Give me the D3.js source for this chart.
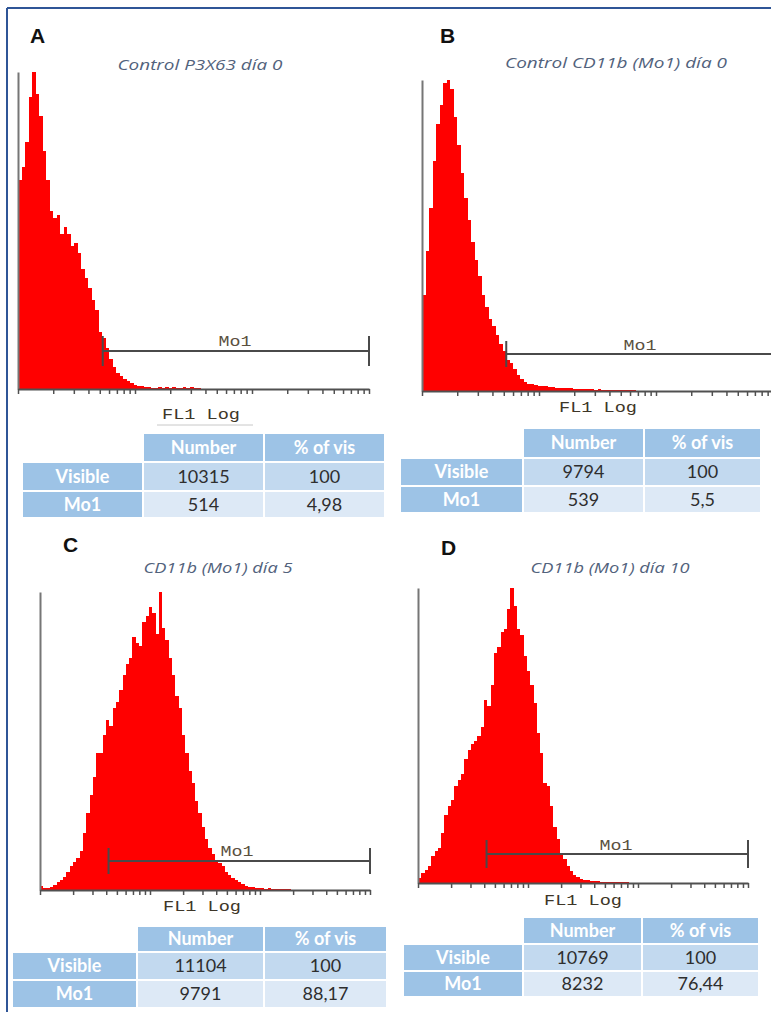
<!DOCTYPE html>
<html>
<head>
<meta charset="utf-8">
<script src="https://cdn.jsdelivr.net/npm/d3@7"></script>
<style>
  html, body { margin: 0; padding: 0; background: #fff; }
  svg { display: block; }
</style>
</head>
<body>
<svg id="chart" width="771" height="1012"></svg>
<script>
// histogram bins are 0.03 decade wide, starting at 10^0
const BIN = 0.03;

const panelLetters = ["A", "B", "C", "D"];
const panelTitles = ["Control P3X63 día 0", "Control CD11b (Mo1) día 0", "CD11b (Mo1) día 5", "CD11b (Mo1) día 10"];

// relative counts per bin (peak = 100)
const countsA = [66, 70, 78, 92, 100, 93, 86, 75, 66, 56, 54, 55, 49, 51, 49, 45, 46, 43, 38, 35,
  32, 28, 25, 18, 16, 13, 9.5, 7, 5, 4, 3, 2.5, 1.8, 1.4, 1.0, 0.8, 0.5, 0.5, 0.4, 0.3,
  0.5, 0.3, 0.5, 0.2, 0.5, 0.2, 0.3, 0.7, 0.3, 0.5, 0.4, 0.2];
const countsB = [31, 45, 59, 74, 86, 92, 99, 100, 97, 88, 79, 70, 62, 55, 48, 42, 37, 31, 27, 23,
  21, 18, 15, 13, 10, 9, 7, 5, 4, 3, 2.4, 2.1, 1.8, 1.7, 1.6, 1.5, 1.4, 1.3, 1.1, 1.0,
  0.9, 1.0, 0.9, 0.8, 0.6, 0.6, 0.6, 0.5, 0.6, 0.4, 0.5, 0.4, 0.3, 0.4, 0.3, 0.3, 0.2, 0.3, 0.2, 0.2, 0.2];
const countsC = [1.3, 0.6, 0.8, 1.1, 1.7, 2.8, 3.4, 4.5, 6, 8, 9.5, 10.6, 13, 19, 26, 32, 38, 46, 46, 52,
  57, 55, 61, 63, 67, 72, 76, 78, 85, 83, 82, 90, 92, 95, 93, 86, 100, 88, 84, 78,
  72, 65, 61, 52, 46, 40, 36, 30, 26, 21, 17, 14, 12, 10, 9, 8, 6, 5, 4, 3.5,
  2.8, 2.0, 1.3, 1.1, 0.9, 0.8, 0.6, 0.6, 0.5, 0.6, 0.4, 0.5, 0.3, 0.4, 0.3, 0.3];
const countsD = [1.7, 3.4, 4.5, 5.6, 9, 11, 12, 17, 23, 26, 28, 33, 35, 37, 42, 45, 47, 48, 50, 53,
  62, 60, 67, 78, 80, 85, 86, 93, 100, 94, 86, 84, 77, 72, 67, 61, 51, 44, 34, 33,
  26, 19, 15, 10, 8, 5.6, 4, 2.8, 2.0, 1.5, 1.1, 0.9, 0.8, 0.7, 0.6, 0.45, 0.45, 0.34, 0.2, 0.2,
  0.2, 0.34, 0.45, 0.2];

// Mo1 gate limits (FL1 units)
const gateLow = [5.3, 5.25, 4.2, 4.2];
const gateHigh = [1000, 1000, 1000, 1000];

// statistics tables
const tableHeaders = ["Number", "% of vis"];
const rowLabels = ["Visible", "Mo1"];
const visibleNumber = [10315, 9794, 11104, 10769];
const mo1Number = [514, 539, 9791, 8232];
const visiblePct = [100, 100, 100, 100];
const mo1Pct = [4.98, 5.5, 88.17, 76.44];

const allCounts = [countsA, countsB, countsC, countsD];

// page layout for each panel
const layout = [
  { letter: [30, 43], title: [200, 70, 165], x0: 18, x1: 369, yTop: 72, yBase: 389,
    gateY: 351, gateH: 15, gateLabel: [235, 346], axisLabel: [201, 419],
    table: { x: 22, y: 433, w: [121, 121, 121], h: [29, 29, 27] } },
  { letter: [440, 43], title: [616, 68, 222], x0: 422, x1: 773, yTop: 80, yBase: 391,
    gateY: 354, gateH: 13, gateLabel: [640, 350], axisLabel: [598, 412],
    table: { x: 400, y: 428, w: [123, 121, 117], h: [30, 28, 27] } },
  { letter: [63, 552], title: [218, 573, 149], x0: 40, x1: 370, yTop: 592, yBase: 890,
    gateY: 861, gateH: 13, gateLabel: [237, 856], axisLabel: [202, 911],
    table: { x: 12, y: 926, w: [125, 127, 123], h: [26, 28, 28] } },
  { letter: [441, 555], title: [610, 573, 159], x0: 418, x1: 748, yTop: 588, yBase: 883,
    gateY: 854, gateH: 14, gateLabel: [616, 850], axisLabel: [583, 905],
    table: { x: 403, y: 917, w: [120, 119, 117], h: [27, 27, 26] } }
];

const headBlue = "#9dc3e6";
const rowFill = ["#c2d9ef", "#dde9f6"];
const monoFont = "'Liberation Mono', 'DejaVu Sans Mono', monospace";

const svg = d3.select("#chart");

// outer frame (top and left edges visible)
svg.append("line").attr("x1", 7).attr("y1", 8).attr("x2", 771).attr("y2", 8)
  .attr("stroke", "#2f5597").attr("stroke-width", 2);
svg.append("line").attr("x1", 7).attr("y1", 8).attr("x2", 7).attr("y2", 1012)
  .attr("stroke", "#2f5597").attr("stroke-width", 2);

const tickVals = [];
[1, 10, 100].forEach(d => d3.range(1, 10).forEach(m => tickVals.push(d * m)));
tickVals.push(1000);

layout.forEach((L, k) => {
  const g = svg.append("g");
  const counts = allCounts[k];

  const x = d3.scaleLog().domain([1, 1000]).range([L.x0, L.x1]);
  const y = d3.scaleLinear().domain([0, 100]).range([L.yBase, L.yTop]);

  // panel letter
  g.append("text")
    .attr("x", L.letter[0]).attr("y", L.letter[1])
    .attr("font-family", "'Liberation Sans', Arial, sans-serif")
    .attr("font-weight", "bold").attr("font-size", 21).attr("fill", "#111")
    .text(panelLetters[k]);

  // title
  g.append("text")
    .attr("x", L.title[0]).attr("y", L.title[1])
    .attr("text-anchor", "middle")
    .attr("font-family", "'Open Sans', sans-serif")
    .attr("font-style", "italic").attr("font-size", 14).attr("fill", "#52627c")
    .attr("textLength", L.title[2]).attr("lengthAdjust", "spacingAndGlyphs")
    .text(panelTitles[k]);

  // histogram
  const pts = counts.map((c, i) => ({ x: Math.pow(10, i * BIN), y: c }));
  pts.push({ x: Math.pow(10, counts.length * BIN), y: 0 });
  const area = d3.area()
    .x(d => x(d.x))
    .y0(y(0))
    .y1(d => y(d.y))
    .curve(d3.curveStepAfter);
  g.append("path")
    .datum(pts)
    .attr("d", area)
    .attr("fill", "#ff0000")
    .attr("stroke", "none")
    .attr("shape-rendering", "crispEdges");

  // y axis (plain line)
  g.append("g")
    .attr("transform", `translate(${L.x0},0)`)
    .call(d3.axisLeft(y).tickValues([]).tickSizeOuter(0))
    .call(s => s.select(".domain").attr("stroke", "#767676").attr("stroke-width", 2));

  // x axis, log ticks without labels
  g.append("g")
    .attr("transform", `translate(0,${L.yBase})`)
    .call(d3.axisBottom(x).tickValues(tickVals).tickFormat("").tickSize(5).tickSizeOuter(0))
    .call(s => s.select(".domain").attr("stroke", "#505050").attr("stroke-width", 2))
    .call(s => s.selectAll(".tick line").attr("stroke", "#505050").attr("stroke-width", 1.5));

  // Mo1 gate
  const gx0 = x(gateLow[k]), gx1 = x(gateHigh[k]);
  const gate = g.append("g").attr("stroke", "#4a4a4a").attr("stroke-width", 2);
  gate.append("line").attr("x1", gx0).attr("x2", gx1).attr("y1", L.gateY).attr("y2", L.gateY);
  gate.append("line").attr("x1", gx0).attr("x2", gx0).attr("y1", L.gateY - L.gateH).attr("y2", L.gateY + L.gateH);
  gate.append("line").attr("x1", gx1).attr("x2", gx1).attr("y1", L.gateY - L.gateH).attr("y2", L.gateY + L.gateH);

  g.append("text")
    .attr("x", L.gateLabel[0]).attr("y", L.gateLabel[1])
    .attr("text-anchor", "middle")
    .attr("font-family", monoFont).attr("font-size", 14).attr("fill", "#5a5040")
    .attr("textLength", 33).attr("lengthAdjust", "spacingAndGlyphs")
    .text("Mo1");

  // axis label
  g.append("text")
    .attr("x", L.axisLabel[0]).attr("y", L.axisLabel[1])
    .attr("text-anchor", "middle")
    .attr("font-family", monoFont).attr("font-size", 15).attr("fill", "#3e3628")
    .attr("textLength", 78).attr("lengthAdjust", "spacingAndGlyphs")
    .text("FL1 Log");

  if (k === 0) {
    g.append("line").attr("x1", 157).attr("x2", 253).attr("y1", 425).attr("y2", 425)
      .attr("stroke", "#c8c8c8").attr("stroke-width", 1);
  }

  // statistics table
  const T = L.table;
  const cx = [T.x, T.x + T.w[0], T.x + T.w[0] + T.w[1]];
  const cy = [T.y, T.y + T.h[0], T.y + T.h[0] + T.h[1]];
  const tg = g.append("g").attr("font-family", "Lato, 'Open Sans', sans-serif").attr("font-size", 18);

  function cell(cxp, cyp, w, h, fill, label, head) {
    tg.append("rect").attr("x", cxp).attr("y", cyp).attr("width", w).attr("height", h)
      .attr("fill", fill).attr("stroke", "#fff").attr("stroke-width", 2);
    tg.append("text").attr("x", cxp + w / 2).attr("y", cyp + h / 2).attr("dy", "0.36em")
      .attr("text-anchor", "middle")
      .attr("font-weight", head ? "bold" : "normal")
      .attr("fill", head ? "#fff" : "#2e2e2e")
      .text(label);
  }

  const fmt = v => String(v).replace(".", ",");
  tableHeaders.forEach((h, j) => cell(cx[j + 1], cy[0], T.w[j + 1], T.h[0], headBlue, h, true));
  const nums = [visibleNumber[k], mo1Number[k]];
  const pcts = [visiblePct[k], mo1Pct[k]];
  rowLabels.forEach((r, i) => {
    cell(cx[0], cy[i + 1], T.w[0], T.h[i + 1], headBlue, r, true);
    cell(cx[1], cy[i + 1], T.w[1], T.h[i + 1], rowFill[i], fmt(nums[i]), false);
    cell(cx[2], cy[i + 1], T.w[2], T.h[i + 1], rowFill[i], fmt(pcts[i]), false);
  });
});
</script>
</body>
</html>
